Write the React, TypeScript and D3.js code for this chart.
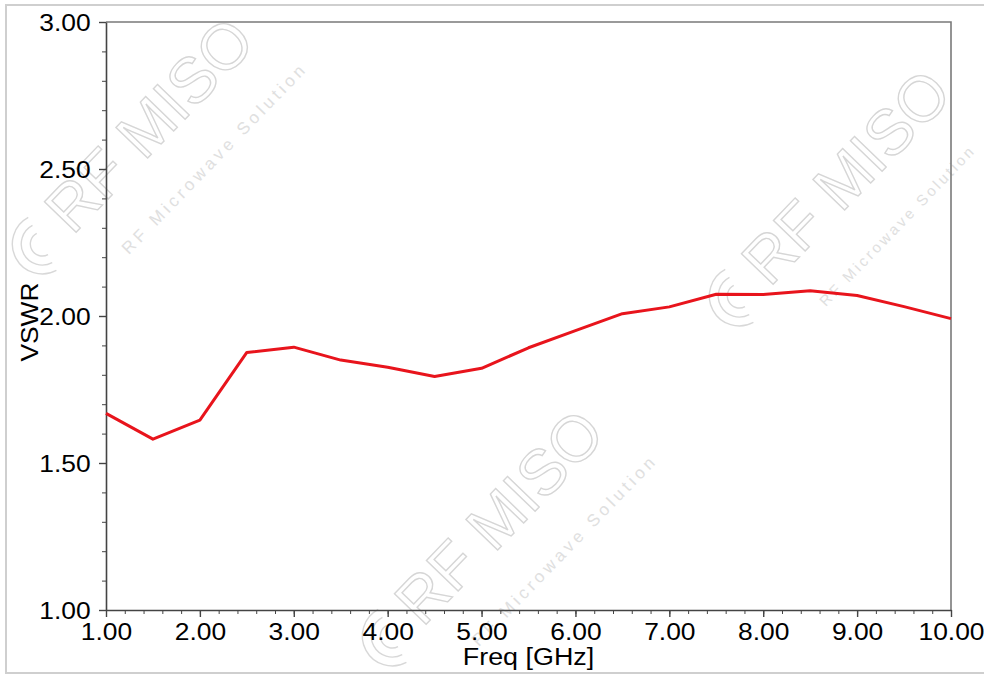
import * as d3 from 'd3';
import { useEffect, useRef } from 'react';

// VSWR vs frequency
const freqGHz = [1.0, 1.5, 2.0, 2.5, 3.0, 3.5, 4.0, 4.5, 5.0, 5.5, 6.0, 6.5, 7.0, 7.5, 8.0, 8.5, 9.0, 9.5, 10.0];
const vswr = [1.669, 1.581, 1.646, 1.876, 1.894, 1.85, 1.826, 1.794, 1.822, 1.892, 1.95, 2.008, 2.031, 2.074, 2.073, 2.086, 2.07, 2.032, 1.991];

const xTicks = [1, 2, 3, 4, 5, 6, 7, 8, 9, 10];
const yTicks = [1.0, 1.5, 2.0, 2.5, 3.0];
const xMinorStep = 0.2;
const yMinorStep = 0.1;

// faint "RF MISO" watermark stamps
const watermarks = [
  { x: 165, y: 140, subSize: 17, subSpacing: 4 },
  { x: 862, y: 192, subSize: 15, subSpacing: 3 },
  { x: 515, y: 532, subSize: 17, subSpacing: 4 },
];

const W = 984;
const H = 675;
const margin = { left: 106, right: 33, top: 22, bottom: 65 };
const FONT = '"Liberation Sans", Arial, sans-serif';

export default function App() {
  const ref = useRef<SVGSVGElement>(null);

  useEffect(() => {
    if (!ref.current) return;
    const svg = d3.select(ref.current);
    svg.selectAll('*').remove();

    const x = d3.scaleLinear().domain([1, 10]).range([margin.left, W - margin.right]);
    const y = d3.scaleLinear().domain([1, 3]).range([H - margin.bottom, margin.top]);

    // background + outer frame
    svg.append('rect').attr('x', 0).attr('y', 0).attr('width', W).attr('height', H).attr('fill', '#fff');
    svg
      .append('rect')
      .attr('x', 6)
      .attr('y', 5)
      .attr('width', W + 10)
      .attr('height', 668)
      .attr('fill', 'none')
      .attr('stroke', '#cfcfcf')
      .attr('stroke-width', 2);

    // watermark
    const wm = svg.append('g').attr('pointer-events', 'none');
    watermarks.forEach((p) => {
      const g = wm.append('g').attr('transform', `translate(${p.x},${p.y}) rotate(-46)`);
      g.append('text')
        .attr('x', 0)
        .attr('y', 0)
        .attr('text-anchor', 'middle')
        .style('font', `64px ${FONT}`)
        .attr('fill', 'none')
        .attr('stroke', '#d6d6d6')
        .attr('stroke-width', 1.4)
        .text('RF MISO');
      g.append('text')
        .attr('x', -108)
        .attr('y', 54)
        .attr('text-anchor', 'start')
        .style('font', `${p.subSize}px ${FONT}`)
        .style('letter-spacing', `${p.subSpacing}px`)
        .attr('fill', '#e0e0e0')
        .text('RF Microwave Solution');
      // logo loops
      [12, 21, 30].forEach((r) => {
        g.append('path')
          .attr('d', d3.arc()({ innerRadius: r, outerRadius: r, startAngle: -Math.PI * 0.9, endAngle: Math.PI * 0.1 }) as string)
          .attr('transform', 'translate(-160,-16)')
          .attr('fill', 'none')
          .attr('stroke', '#d8d8d8')
          .attr('stroke-width', 1.4);
      });
    });

    // plot frame top & right
    svg
      .append('path')
      .attr('d', `M${x(1)},${y(3)}H${x(10)}V${y(1)}`)
      .attr('fill', 'none')
      .attr('stroke', '#7a7a7a')
      .attr('stroke-width', 1.6);

    // minor ticks
    const xMinor = d3.range(1, 10 + 1e-9, xMinorStep);
    const yMinor = d3.range(1, 3 + 1e-9, yMinorStep);

    svg
      .append('g')
      .attr('transform', `translate(0,${y(1)})`)
      .call(d3.axisBottom(x).tickValues(xMinor).tickSize(4).tickFormat(() => ''))
      .call((g) => g.select('.domain').remove())
      .selectAll('line')
      .attr('stroke', '#444');

    svg
      .append('g')
      .attr('transform', `translate(${x(1)},0)`)
      .call(d3.axisLeft(y).tickValues(yMinor).tickSize(4).tickFormat(() => ''))
      .call((g) => g.select('.domain').remove())
      .selectAll('line')
      .attr('stroke', '#444');

    // major axes
    const xAxis = svg
      .append('g')
      .attr('transform', `translate(0,${y(1)})`)
      .call(d3.axisBottom(x).tickValues(xTicks).tickSize(7).tickSizeOuter(0).tickPadding(6).tickFormat(d3.format('.2f')));
    xAxis.select('.domain').attr('stroke', '#444').attr('stroke-width', 1.6);
    xAxis.selectAll('line').attr('stroke', '#444').attr('stroke-width', 1.4);
    xAxis
      .selectAll('text')
      .style('font', `24px ${FONT}`)
      .attr('fill', '#000')
      .attr('transform', 'scale(1.1,1)');

    const yAxis = svg
      .append('g')
      .attr('transform', `translate(${x(1)},0)`)
      .call(d3.axisLeft(y).tickValues(yTicks).tickSize(7).tickSizeOuter(0).tickPadding(7).tickFormat(d3.format('.2f')));
    yAxis.select('.domain').attr('stroke', '#444').attr('stroke-width', 1.6);
    yAxis.selectAll('line').attr('stroke', '#444').attr('stroke-width', 1.4);
    yAxis
      .selectAll('text')
      .style('font', `24px ${FONT}`)
      .attr('fill', '#000')
      .attr('dy', '0.36em')
      .attr('transform', 'scale(1.1,1)');

    // axis titles
    svg
      .append('text')
      .attr('transform', `translate(${(x(1) + x(10)) / 2},665) scale(1.12,1)`)
      .attr('text-anchor', 'middle')
      .style('font', `24px ${FONT}`)
      .attr('fill', '#000')
      .text('Freq [GHz]');
    svg
      .append('text')
      .attr('transform', `translate(38,${322}) rotate(-90) scale(1.1,1)`)
      .attr('text-anchor', 'middle')
      .style('font', `24px ${FONT}`)
      .attr('fill', '#000')
      .text('VSWR');

    // data line
    const line = d3
      .line<number>()
      .x((_, i) => x(freqGHz[i]))
      .y((d) => y(d));
    svg
      .append('path')
      .datum(vswr)
      .attr('d', line)
      .attr('fill', 'none')
      .attr('stroke', '#e8141c')
      .attr('stroke-width', 3)
      .attr('stroke-linejoin', 'round');
  }, []);

  return (
    <svg
      ref={ref}
      width={W}
      height={H}
      style={{ position: 'absolute', left: 0, top: 0, display: 'block' }}
    ></svg>
  );
}
